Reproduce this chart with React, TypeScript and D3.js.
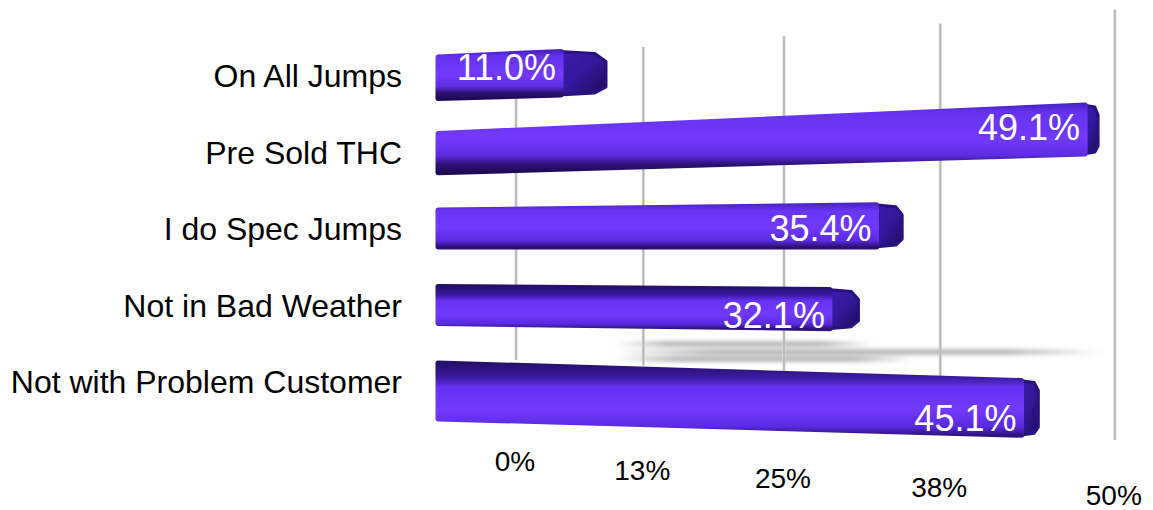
import * as d3 from 'd3';

const categories = [
  'On All Jumps',
  'Pre Sold THC',
  'I do Spec Jumps',
  'Not in Bad Weather',
  'Not with Problem Customer',
];
const values = [11.0, 49.1, 35.4, 32.1, 45.1];
const tickValues = [0, 12.5, 25, 37.5, 50];
const tickLabels = ['0%', '13%', '25%', '38%', '50%'];

const W = 1153;
const H = 510;
const FONT = '"Liberation Sans", Arial, sans-serif';

// value -> 0..1 along the axis, then a perspective projection
const t = d3.scaleLinear().domain([0, 50]).range([0, 1]);
const K = 0.19;
const project = (v: number, x0: number, span: number) => {
  const u = t(v);
  return x0 + (span * u) / (1 - K * u);
};
const frontX = (v: number) => project(v, 438, 536); // front face of bars
const backX = (v: number) => project(v, 516, 485); // back wall gridlines

const rowTop = d3.scalePoint<string>().domain(categories).range([57, 363]);
const thickness = (top: number) =>
  37 + Math.max(0, top - 300) * 0.3 + Math.max(0, 210 - top) * 0.03;
const topSlope = d3.scaleLinear().domain([151, 228, 391]).range([-0.045, -0.012, 0.03]).clamp(true);
const botSlope = d3.scaleLinear().domain([151, 228, 391]).range([-0.03, 0, 0.028]).clamp(true);

const closed = d3.line<[number, number]>().curve(d3.curveLinearClosed);

const gradStops: Record<string, [number, string][]> = {
  up: [
    [0, '#4a22c8'],
    [0.1, '#6532ee'],
    [0.5, '#7339fd'],
    [0.74, '#5e2de2'],
    [0.88, '#2c1075'],
    [1, '#1c0a52'],
  ],
  mid: [
    [0, '#4e26cc'],
    [0.15, '#6a35f5'],
    [0.55, '#7038fb'],
    [0.85, '#5a2ae0'],
    [1, '#2a0f70'],
  ],
  down: [
    [0, '#24106a'],
    [0.2, '#3a1aa0'],
    [0.34, '#6632f2'],
    [0.65, '#7239fc'],
    [0.88, '#5a2ae0'],
    [1, '#2e1280'],
  ],
};

export default function App() {
  const bars = categories.map((c, i) => {
    const top = rowTop(c)!;
    const h = thickness(top);
    const center = top + h / 2;
    const x0 = 438;
    const xE = frontX(values[i]);
    const len = xE - x0;
    const ts = topSlope(center);
    const bs = botSlope(center);
    const tl: [number, number] = [x0, top];
    const bl: [number, number] = [x0, top + h];
    const tr: [number, number] = [xE, top + ts * len];
    const br: [number, number] = [xE, top + h + bs * len];
    const cap = 45 - (xE - 560) * 0.061;
    const capPts: [number, number][] = [
      [xE - 2, tr[1]],
      [xE + cap * 0.75, tr[1] + 2],
      [xE + cap, tr[1] + 10],
      [xE + cap, br[1] - 8],
      [xE + cap * 0.75, br[1] - 2],
      [xE - 2, br[1]],
    ];
    const kind = i < 2 ? 'up' : i === 2 ? 'mid' : 'down';
    const labelY = (tr[1] + br[1]) / 2 + (i - 1.5) * 4 + 13;
    return { c, i, top, h, xE, front: [tl, tr, br, bl] as [number, number][], capPts, kind, labelY };
  });

  const shadowRows = [1, 2, 3];
  const shadowY = [352, 359, 344];

  return (
    <svg
      width={W}
      height={H}
      style={{ position: 'absolute', left: 0, top: 0, background: '#fff' }}
      fontFamily={FONT}
    >
      <defs>
        {bars.map(b => (
          <linearGradient key={b.i} id={`g${b.i}`} x1="0" y1="0" x2="0" y2="1">
            {gradStops[b.kind].map(([o, col], k) => (
              <stop key={k} offset={o} stopColor={col} />
            ))}
          </linearGradient>
        ))}
        <linearGradient id="cap" x1="0" y1="0" x2="1" y2="1">
          <stop offset="0" stopColor="#3d1cb0" />
          <stop offset="0.5" stopColor="#34179a" />
          <stop offset="1" stopColor="#1e0a5a" />
        </linearGradient>
        <linearGradient id="grid" x1="0" y1="0" x2="1" y2="0">
          <stop offset="0" stopColor="#dcdcdc" />
          <stop offset="0.5" stopColor="#b0b0b0" />
          <stop offset="1" stopColor="#d4d4d4" />
        </linearGradient>
        <linearGradient id="shade" x1="0" y1="0" x2="1" y2="0">
          <stop offset="0" stopColor="#999" stopOpacity={0} />
          <stop offset="0.2" stopColor="#999" stopOpacity={0.8} />
          <stop offset="0.8" stopColor="#999" stopOpacity={0.8} />
          <stop offset="1" stopColor="#999" stopOpacity={0} />
        </linearGradient>
        <filter id="blur" x="-10%" y="-300%" width="120%" height="700%">
          <feGaussianBlur stdDeviation="4 2.2" />
        </filter>
      </defs>

      {/* floor shadows */}
      <g filter="url(#blur)">
        {shadowRows.map((r, k) => (
          <rect
            key={r}
            x={backX(10)}
            width={backX(values[r]) - backX(10)}
            y={shadowY[k] - 2.5}
            height={5}
            fill="url(#shade)"
          />
        ))}
      </g>

      {/* gridlines on back wall */}
      {tickValues.map((v, i) => {
        const x = backX(v);
        const y1 = 57 - (x - 516) * 0.079;
        const y2 = i === tickValues.length - 1 ? 440 : 360 + (x - 516) * 0.045;
        return (
          <rect key={v} x={x - 1.5} y={y1} width={3} height={y2 - y1} fill="url(#grid)" />
        );
      })}

      {/* tick labels */}
      {tickValues.map((v, i) => (
        <text
          key={v}
          x={backX(v) - 1}
          y={471 + i * 8.5}
          textAnchor="middle"
          fontSize={28}
          fill="#000"
        >
          {tickLabels[i]}
        </text>
      ))}

      {/* bars */}
      {bars.map(b => (
        <g key={b.c}>
          <path
            d={closed(b.capPts)!}
            fill="url(#cap)"
            stroke="#2a1080"
            strokeWidth={3}
            strokeLinejoin="round"
          />
          <path
            d={closed(b.front)!}
            fill={`url(#g${b.i})`}
            stroke={`url(#g${b.i})`}
            strokeWidth={5}
            strokeLinejoin="round"
          />
          <text
            x={b.xE - 5}
            y={b.labelY}
            textAnchor="end"
            fontSize={36}
            fill="#fff"
          >
            {d3.format('.1f')(values[b.i])}%
          </text>
        </g>
      ))}

      {/* category labels */}
      {bars.map(b => (
        <text key={b.c} x={402} y={b.top + 30} textAnchor="end" fontSize={32} fill="#000">
          {b.c}
        </text>
      ))}
    </svg>
  );
}
